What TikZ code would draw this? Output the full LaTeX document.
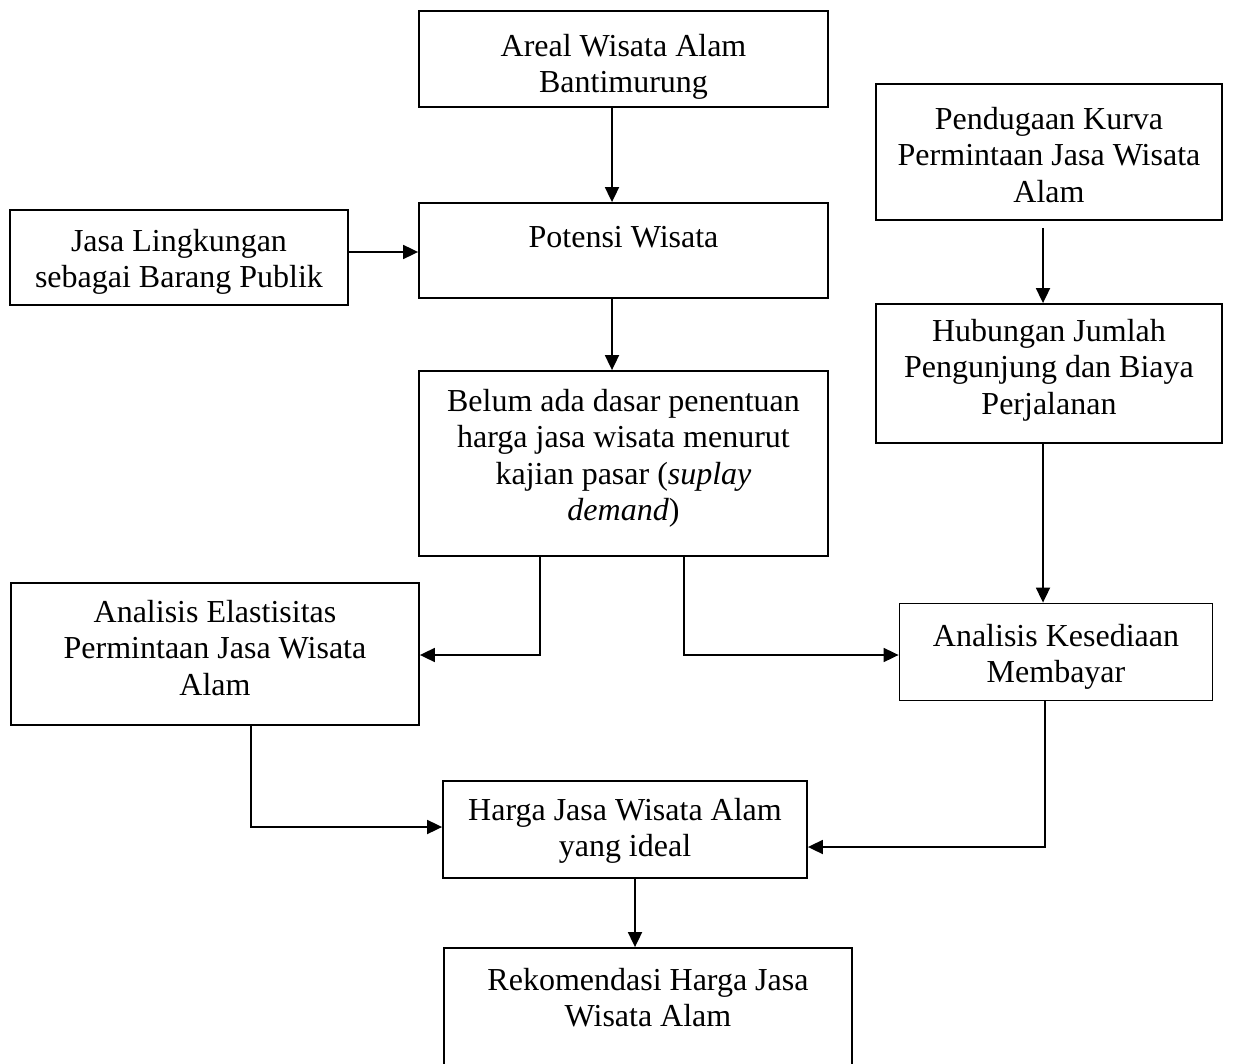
\documentclass[tikz,border=0pt]{standalone}
\usepackage{fontspec}
\setmainfont{Liberation Serif}
\usetikzlibrary{arrows.meta}
\tikzset{
  box/.style={draw, line width=1.8pt, inner sep=0pt},
  txt/.style={align=center, inner sep=0pt, anchor=north, font=\fontsize{32}{36.5}\selectfont},
  arr/.style={line width=1.8pt, -{Triangle[length=15pt,width=14pt]}},
}
\newcommand{\fs}{\rule{0pt}{25pt}}
\begin{document}
\begin{tikzpicture}[x=1pt,y=-1pt]
\useasboundingbox (0,0) rectangle (1239,1064);
\clip (0,0) rectangle (1239,1064);
% boxes
\node[box, minimum width=409, minimum height=96] (areal) at (623.5,59) {};
\node[box, minimum width=346, minimum height=136] (pend) at (1049,152) {};
\node[box, minimum width=338, minimum height=95] (jasa) at (179,257.5) {};
\node[box, minimum width=409, minimum height=95] (pot) at (623.5,250.5) {};
\node[box, minimum width=346, minimum height=139] (hub) at (1049,373.5) {};
\node[box, minimum width=409, minimum height=185] (belum) at (623.5,463.5) {};
\node[box, minimum width=408, minimum height=142] (elas) at (215,654) {};
\node[box, minimum width=313, minimum height=97] (kes) at (1056,652) {};
\node[box, minimum width=364, minimum height=97] (harga) at (625,829.5) {};
\node[box, minimum width=408, minimum height=140] (rek) at (648,1018) {};
% texts
\node[txt] (arealt) at (623.5,56-25) {\fs Areal Wisata Alam\\Bantimurung};
\node[txt] (pendt) at (1049,129-25) {\fs Pendugaan Kurva\\Permintaan Jasa Wisata\\Alam};
\node[txt] (jasat) at (179,251-25) {\fs Jasa Lingkungan\\sebagai Barang Publik};
\node[txt] (pott) at (623.5,247-25) {\fs Potensi Wisata};
\node[txt] (hubt) at (1049,341-25) {\fs Hubungan Jumlah\\Pengunjung dan Biaya\\Perjalanan};
\node[txt] (belumt) at (623.5,411-25) {\fs Belum ada dasar penentuan\\harga jasa wisata menurut\\kajian pasar (\textit{suplay}\\\textit{demand})};
\node[txt] (elast) at (215,622-25) {\fs Analisis Elastisitas\\Permintaan Jasa Wisata\\Alam};
\node[txt] (kest) at (1056,646-25) {\fs Analisis Kesediaan\\Membayar};
\node[txt] (hargat) at (625,820-25) {\fs Harga Jasa Wisata Alam\\yang ideal};
\node[txt] (rekt) at (648,990-25) {\fs Rekomendasi Harga Jasa\\Wisata Alam};
% helper coordinates
\coordinate (c1) at (612,0);
\coordinate (c2) at (0,252);
\coordinate (c3) at (1043,228);
\coordinate (c4) at (540,655);
\coordinate (c5) at (684,655);
\coordinate (c6) at (251,827);
\coordinate (c7) at (1045,847);
\coordinate (c8) at (635,0);
% connectors
\draw[arr] (areal.south -| c1) -- (pot.north -| c1);
\draw[arr] (pot.south -| c1) -- (belum.north -| c1);
\draw[arr] (jasa.east |- c2) -- (pot.west |- c2);
\draw[arr] (c3) -- (hub.north -| c3);
\draw[arr] (hub.south -| c3) -- (kes.north -| c3);
\draw[arr] (belum.south -| c4) -- (c4) -- (elas.east |- c4);
\draw[arr] (belum.south -| c5) -- (c5) -- (kes.west |- c5);
\draw[arr] (elas.south -| c6) -- (c6) -- (harga.west |- c6);
\draw[arr] (kes.south -| c7) -- (c7) -- (harga.east |- c7);
\draw[arr] (harga.south -| c8) -- (rek.north -| c8);
\end{tikzpicture}
\end{document}
